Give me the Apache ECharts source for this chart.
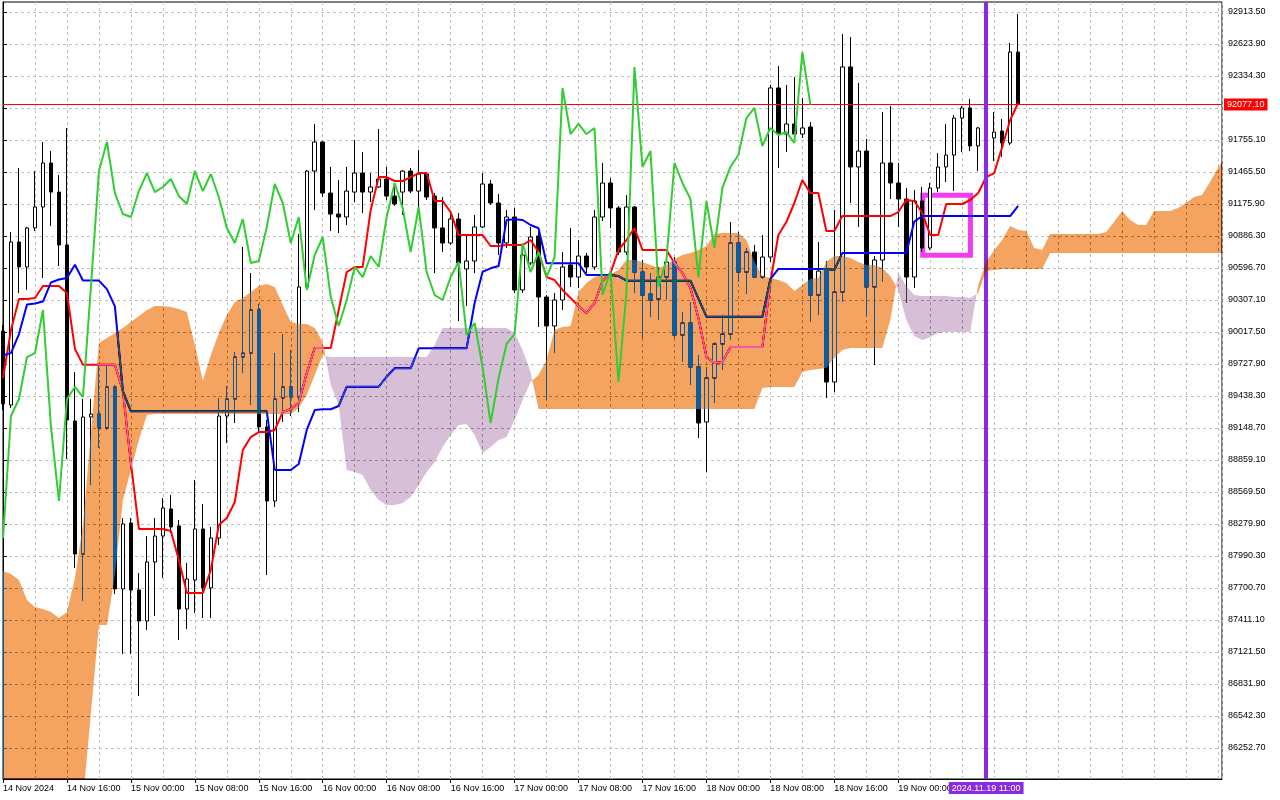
<!DOCTYPE html>
<html>
<head>
<meta charset="utf-8">
<script src="https://cdn.jsdelivr.net/npm/echarts@6/dist/echarts.min.js"></script>
<style>html,body{margin:0;padding:0;background:#fff}#c{width:1280px;height:800px}</style>
</head>
<body>
<div id="c"></div>
<script>
// ---- data (hourly BTC bars, 14 Nov 2024 08:00 .. 19 Nov 2024 15:00) ----
const timeLabels = ['14 Nov 2024','14 Nov 16:00','15 Nov 00:00','15 Nov 08:00','15 Nov 16:00','16 Nov 00:00','16 Nov 08:00','16 Nov 16:00','17 Nov 00:00','17 Nov 08:00','17 Nov 16:00','18 Nov 00:00','18 Nov 08:00','18 Nov 16:00','19 Nov 00:00'];
const timeLabelBars = [0,8,16,24,32,40,48,56,64,72,80,88,96,104,112];
const priceTicks = [86252.7,86542.3,86831.9,87121.5,87411.1,87700.7,87990.3,88279.9,88569.5,88859.1,89148.7,89438.3,89727.9,90017.5,90307.1,90596.7,90886.3,91175.9,91465.5,91755.1,92044.7,92334.3,92623.9,92913.5];

const opens = [90026,89357,90832,90606,90959,91149,91547,91284,90805,89212,
88008,89248,89275,89149,89520,87692,88289,87683,87402,87936,
88171,88416,88262,87511,87773,88235,87701,88153,89257,89411,
89791,89827,90217,89158,88488,89420,89520,89429,90425,91474,
91737,91275,91085,91058,91284,91456,91284,91330,91402,91248,
91284,91474,91293,91447,91248,90959,90823,91040,90588,90660,
90968,91357,91185,90823,91058,90398,90642,90886,90334,90072,
90307,90624,90515,90705,90606,91058,91366,91140,90741,91149,
90560,90361,90316,90515,90651,89990,90099,89701,89203,89601,
89909,89999,90823,90560,90741,90515,90696,92226,91809,91900,
91809,91873,90352,90579,89565,90379,92416,91511,91655,90425,
90669,91547,91366,91221,90515,91203,90778,91321,91511,91619,
91954,92045,91701,91864,91773,91836,91728,92551];

const highs = [90081,90922,91502,90968,91474,91737,91655,91438,91864,89655,
89411,89411,89710,89710,89538,88334,88334,87836,88171,88334,
88515,88542,88316,87927,88678,88461,88253,89420,89529,89836,
90787,90551,90271,89221,89827,89999,89855,90904,91484,91900,
91746,91511,91393,91511,91755,91646,91456,91855,91511,91366,
91484,91502,91665,91465,91275,91239,91094,91094,90895,91076,
91456,91393,91266,91122,91140,90787,90968,90941,90352,90370,
90741,90959,90850,90732,91122,91547,91411,91158,91257,91158,
90669,90551,90606,90669,90696,90198,90289,89809,89701,89927,
90171,91013,90922,90778,90805,90895,92253,92425,92253,92325,
92135,91918,90832,90660,91122,92714,92687,92271,91764,90705,
92008,92063,91547,91321,91303,91330,91366,91637,91900,91981,
92063,92126,91873,91981,92008,91945,92633,92895];

const lows = [89311,89330,90370,90398,90931,90506,90977,90615,88868,87882,
87583,88633,88968,89131,87646,87103,87103,86723,87321,87447,
87791,88198,87230,87330,87474,87429,87429,88090,89013,89194,
89646,89357,89112,87818,88434,89203,89257,89293,90398,91122,
91239,90931,90913,90986,91194,91094,91194,91321,91212,91158,
91076,91275,91140,91212,90551,90741,90805,90117,90253,90551,
90959,91167,90714,90778,90370,90370,90624,90063,89402,89827,
90217,90425,90416,90551,90579,91022,90959,90714,90714,90370,
89963,90153,90126,90307,89963,89746,89538,89058,88750,89375,
89674,89945,90470,90361,90506,90497,90651,91502,91646,91728,
91773,90108,90171,89420,89474,90289,91185,90968,90162,89719,
90470,91221,90968,90280,90416,90741,90760,91284,91375,91293,
91646,91655,91474,91665,91565,91601,91710,92060];

const closes = [89366,90832,90606,90959,91149,91547,91284,90805,89221,88008,
89248,89275,89149,89520,87692,88280,87683,87402,87936,88171,
88425,88253,87511,87782,88235,87701,88153,89257,89411,89791,
89827,90217,89158,88488,89411,89520,89429,90425,91474,91737,
91275,91085,91058,91293,91456,91284,91330,91402,91248,91176,
91474,91293,91447,91239,90959,90823,91040,90642,90660,90968,
91357,91185,90823,91058,90398,90714,90877,90334,90072,90307,
90606,90515,90705,90606,91058,91366,91140,90741,91149,90560,
90352,90307,90515,90651,89990,90099,89701,89194,89601,89909,
89999,90823,90560,90741,90515,90696,92226,91809,91900,91809,
91864,90352,90569,89565,90379,92416,91511,91655,90425,90669,
91547,91366,91221,90515,91203,90778,91321,91511,91619,91954,
92045,91701,91864,91800,91827,91728,92551,92077.1];

const tenkan = [89601,90036,90316,90316,90325,90434,90434,90434,90370,89864,
89722,89722,89722,89722,89722,89483,88832,88235,88235,88235,
88235,88217,87954,87655,87655,87655,87864,88271,88334,88479,
88950,89067,89112,89112,89131,89293,89321,89375,89646,89873,
89873,89873,90217,90560,90606,90606,91122,91420,91420,91384,
91384,91420,91456,91456,91203,91203,91103,90895,90895,90895,
90895,90796,90796,90805,90805,90805,90850,90741,90515,90488,
90398,90325,90253,90189,90280,90479,90551,90760,90850,90959,
90760,90760,90760,90760,90642,90551,90416,90144,89791,89737,
89746,89882,89882,89882,89882,89882,90470,90895,91013,91185,
91393,91275,91275,90931,90931,91067,91067,91067,91067,91067,
91067,91067,91103,91212,91203,91094,90895,90895,91176,91176,
91176,91212,91275,91420,91456,91692,91936,92090];

const kijun = [89805,89827,89999,90266,90276,90293,90466,90493,90507,90627,
90483,90483,90483,90405,90250,89482,89300,89300,89300,89300,
89300,89300,89300,89300,89300,89300,89300,89300,89300,89300,
89300,89300,89300,89300,88769,88769,88769,88823,89131,89311,
89318,89318,89348,89522,89522,89522,89522,89522,89613,89689,
89689,89689,89870,89870,89870,89870,89870,89870,89870,90280,
90563,90594,90615,91031,91037,91031,90986,90956,90639,90639,
90639,90639,90639,90533,90533,90533,90533,90524,90482,90482,
90482,90482,90482,90482,90482,90482,90482,90319,90156,90156,
90156,90156,90156,90156,90156,90156,90497,90588,90588,90588,
90588,90588,90588,90588,90579,90733,90733,90733,90733,90733,
90733,90733,90733,90733,91016,91067,91067,91067,91067,91067,
91067,91067,91067,91067,91067,91067,91067,91158];

// Chikou span: plotted 26 bars back (bar 0 .. 101)
const chikou = [88153,89257,89411,89791,89827,90217,89158,88488,89411,89520,
89429,90425,91474,91737,91275,91085,91058,91293,91456,91284,
91330,91402,91248,91176,91474,91293,91447,91239,90959,90823,
91040,90642,90660,90968,91357,91185,90823,91058,90398,90714,
90877,90334,90072,90307,90606,90515,90705,90606,91058,91366,
91140,90741,91149,90560,90352,90307,90515,90651,89990,90099,
89701,89194,89601,89909,89999,90823,90560,90741,90515,90696,
92226,91809,91900,91809,91864,90352,90569,89565,90379,92416,
91511,91655,90425,90669,91547,91366,91221,90515,91203,90778,
91321,91511,91619,91954,92045,91701,91864,91800,91827,91728,
92551,92077.1];

// Senkou spans, plotted 26 bars ahead (bar 0 .. 153)
const spanA = [87854,87827,87773,87592,87529,87511,87483,87429,87483,87791,
88271,89103,89918,89963,90008,90054,90108,90162,90217,90253,
90253,90244,90226,90198,89900,89574,89809,90008,90171,90289,
90325,90379,90434,90452,90425,90262,90108,90090,90090,90054,
89927,89538,89357,88769,88750,88723,88588,88497,88452,88452,
88470,88524,88633,88750,88841,88977,89085,89176,89185,89085,
88922,88977,89040,89067,89221,89402,89565,89628,89764,90036,
90063,90072,90379,90461,90515,90533,90542,90579,90669,90669,
90651,90624,90597,90624,90678,90714,90732,90760,90796,90904,
90913,90913,90913,90850,90651,90524,90506,90488,90461,90389,
90443,90497,90506,90651,90705,90705,90687,90651,90624,90624,
90597,90524,90398,90126,89981,89945,89972,90008,90017,90017,
90017,90017,90443,90651,90760,90850,90977,90941,90931,90778,
90760,90904,90904,90904,90904,90904,90904,90904,90922,91013,
91112,91031,90986,90986,91112,91112,91112,91140,91185,91239,
91257,91375,91502,91619];

const spanB = [85600,85600,85600,85600,85600,85600,85600,85600,85600,85600,
85782,86569,87366,87366,87818,88497,88769,89040,89266,89275,
89275,89275,89275,89275,89275,89275,89275,89275,89275,89275,
89275,89275,89275,89275,89275,89275,89275,89330,89447,89628,
89809,89791,89791,89791,89791,89791,89791,89791,89791,89791,
89791,89791,89791,89791,89900,90054,90054,90054,90054,90054,
90054,90054,90054,90054,90008,89855,89655,89321,89321,89321,
89321,89321,89321,89321,89321,89321,89321,89321,89321,89321,
89321,89321,89321,89321,89321,89321,89321,89321,89321,89321,
89321,89321,89321,89321,89321,89511,89520,89520,89520,89520,
89655,89674,89683,89692,89782,89855,89873,89873,89873,89873,
89873,90126,90552,90434,90352,90343,90343,90343,90343,90334,
90334,90325,90370,90570,90579,90588,90588,90588,90588,90588,
90588,90732,90732,90732,90732,90732,90732,90732,90732,90732,
90732,90732,90732,90732,90732,90732,90732,90732,90732,90732,
90732,90732,90732,90732];

const lastPrice = 92077.1;
const currentBar = 123;
const currentBarLabel = '2024.11.19 11:00';
const boxCorners = [[115.06, 91255], [121.03, 90712]];

// ---- build ----
const FONT = '"Liberation Sans", Arial, sans-serif';
const XMAX = 152.5, YMIN = 85972.15, YMAX = 93004;

const candleData = opens.map((o, i) => [i, o, closes[i], lows[i], highs[i]]);
const toXY = arr => arr.map((v, i) => [i, v]);

// split the cloud into runs of constant sign (A above B -> sandybrown, else thistle)
const cloudRuns = [];
(function () {
  let cur = null;
  for (let j = 0; j < spanA.length; j++) {
    const a = spanA[j], b = spanB[j], s = a >= b ? 1 : -1;
    if (!cur) { cur = { s, up: [[j, a]], dn: [[j, b]] }; continue; }
    if (s !== cur.s) {
      const pa = spanA[j - 1], pb = spanB[j - 1];
      const d0 = pa - pb, d1 = a - b, t = d0 / (d0 - d1);
      const x = j - 1 + t, v = pa + t * (a - pa);
      cur.up.push([x, v]); cur.dn.push([x, v]);
      cloudRuns.push(cur);
      cur = { s, up: [[x, v], [j, a]], dn: [[x, v], [j, b]] };
    } else { cur.up.push([j, a]); cur.dn.push([j, b]); }
  }
  cloudRuns.push(cur);
})();

const chart = echarts.init(document.getElementById('c'), null, { renderer: 'canvas' });
const option = {
  backgroundColor: '#ffffff',
  animation: false,
  grid: { left: 2, right: 58, top: 2, bottom: 21, show: true, borderColor: '#000', borderWidth: 1 },
  xAxis: [
    {
      type: 'value', min: 0, max: XMAX, position: 'bottom',
      axisLine: { show: true, lineStyle: { color: '#000', width: 1 } },
      axisTick: { show: true, length: 4, customValues: timeLabelBars, lineStyle: { color: '#000' } },
      axisLabel: {
        customValues: timeLabelBars, align: 'left', margin: 5, color: '#000',
        fontFamily: FONT, fontSize: 9,
        formatter: v => timeLabels[timeLabelBars.indexOf(Math.round(v))] || ''
      },
      splitLine: { show: false }
    },
    {
      type: 'value', min: 0, max: XMAX, interval: 4, position: 'bottom',
      axisLine: { show: false }, axisTick: { show: false }, axisLabel: { show: false },
      splitLine: { show: true, lineStyle: { color: '#c0c0c0', type: [3, 3], width: 1 } }
    }
  ],
  yAxis: {
    type: 'value', position: 'right', min: YMIN, max: YMAX,
    axisLine: { show: true, lineStyle: { color: '#000', width: 1 } },
    axisTick: { show: true, length: 4, customValues: priceTicks, lineStyle: { color: '#000' } },
    axisLabel: { customValues: priceTicks, formatter: v => v.toFixed(2), color: '#000', fontFamily: FONT, fontSize: 9, margin: 6 },
    splitLine: { show: true, lineStyle: { color: '#c0c0c0', type: [3, 3], width: 1 } }
  },
  series: [
    {
      type: 'candlestick', name: 'BTCUSD', data: candleData,
      encode: { x: 0, y: [1, 2, 3, 4] }, barWidth: 4, z: 2, silent: true,
      itemStyle: { color: '#ffffff', color0: '#000000', borderColor: '#000000', borderColor0: '#000000', borderWidth: 1 }
    },
    {
      type: 'line', name: 'Tenkan-sen', data: toXY(tenkan), symbol: 'none', showSymbol: false, z: 3, silent: true,
      lineStyle: { color: '#ff0000', width: 2 }
    },
    {
      type: 'line', name: 'Kijun-sen', data: toXY(kijun), symbol: 'none', showSymbol: false, z: 3, silent: true,
      lineStyle: { color: '#0000ff', width: 2 }
    },
    {
      type: 'custom', name: 'Kumo', z: 5, silent: true, clip: true,
      blendMode: 'difference',
      data: cloudRuns.map(r => [r.up[0][0], r.up[0][1]]),
      renderItem: function (params, api) {
        const r = cloudRuns[params.dataIndex];
        const pts = r.up.concat(r.dn.slice().reverse()).map(p => api.coord(p));
        return {
          type: 'polygon', shape: { points: pts },
          style: { fill: r.s > 0 ? '#0b5b9f' : '#274027', stroke: null }
        };
      }
    },
    {
      type: 'line', name: 'Chikou Span', data: toXY(chikou), symbol: 'none', showSymbol: false, z: 8, silent: true,
      lineStyle: { color: '#32cd32', width: 2 },
      markArea: {
        silent: true,
        itemStyle: { color: 'rgba(0,0,0,0)', borderColor: '#f23cf2', borderWidth: 5 },
        data: [[{ xAxis: boxCorners[0][0], yAxis: boxCorners[0][1] }, { xAxis: boxCorners[1][0], yAxis: boxCorners[1][1] }]]
      },
      markLine: {
        silent: true, symbol: ['none', 'none'], animation: false,
        data: [
          {
            yAxis: lastPrice, lineStyle: { color: '#ff0000', width: 1, type: 'solid' },
            label: { show: true, position: 'end', distance: 2, formatter: lastPrice.toFixed(2), color: '#fff', backgroundColor: '#ff0000', padding: [2, 3, 1, 3], fontFamily: FONT, fontSize: 9 }
          },
          {
            xAxis: currentBar, lineStyle: { color: '#8a2be2', width: 4, type: 'solid' },
            label: { show: true, position: 'start', distance: 3, formatter: currentBarLabel, color: '#fff', backgroundColor: '#8a2be2', padding: [2, 3, 1, 3], fontFamily: FONT, fontSize: 9 }
          }
        ]
      }
    }
  ]
};
chart.setOption(option);
</script>
</body>
</html>
